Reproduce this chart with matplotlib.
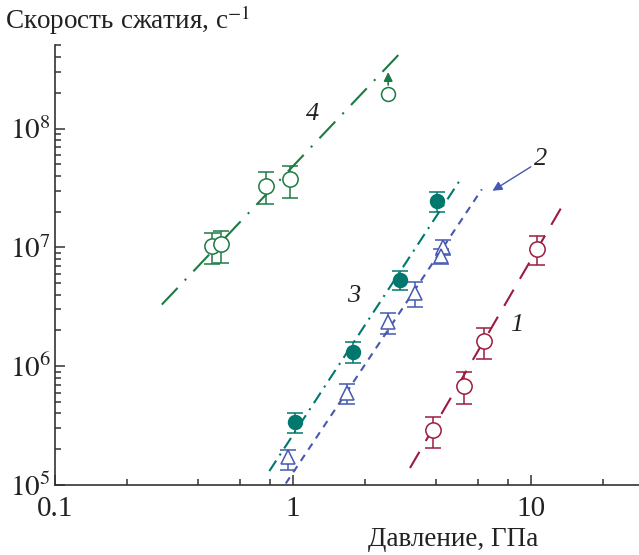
import matplotlib
matplotlib.use("Agg")
import matplotlib.pyplot as plt
import numpy as np
from matplotlib.ticker import LogLocator, NullFormatter, FixedLocator, FixedFormatter

plt.rcParams['font.family'] = ['Liberation Serif', 'DejaVu Serif']
plt.rcParams['mathtext.fontset'] = 'stix'

# Series 1 (dark red, open circles, dashed)
p1 = [3.87, 5.25, 6.35, 10.6]
r1 = [2.91e5, 6.84e5, 1.64e6, 9.6e6]
r1_lo = [2.05e5, 4.83e5, 1.15e6, 7.05e6]
r1_hi = [3.77e5, 8.87e5, 2.10e6, 1.24e7]
fit1_p = [3.1, 13.5]
fit1_r = [1.39e5, 2.22e7]

# Series 2 (blue, open triangles, short dashes)
p2 = [0.953, 1.68, 2.51, 3.26, 4.25, 4.2]
r2 = [1.72e5, 5.94e5, 2.34e6, 4.15e6, 1.0e7, 8.4e6]
r2_lo = [1.34e5, 4.83e5, 1.88e6, 3.13e6, 8.6e6, 7.2e6]
r2_hi = [1.97e5, 7.08e5, 2.81e6, 5.07e6, 1.15e7, 9.6e6]
fit2_p = [0.932, 6.21]
fit2_r = [1.03e5, 3.08e7]

# Series 3 (teal, filled circles, dash-dot)
p3 = [1.02, 1.79, 2.82, 4.04]
r3 = [3.42e5, 1.32e6, 5.3e6, 2.46e7]
r3_lo = [2.73e5, 1.06e6, 4.4e6, 2.0e7]
r3_hi = [4.03e5, 1.59e6, 6.3e6, 2.95e7]
fit3_p = [0.795, 5.11]
fit3_r = [1.31e5, 3.87e7]

# Series 4 (green, open circles, long dash-dot)
p4 = [0.455, 0.498, 0.768, 0.971]
r4 = [1.03e7, 1.06e7, 3.29e7, 3.75e7]
r4_lo = [7.2e6, 7.4e6, 2.3e7, 2.62e7]
r4_hi = [1.33e7, 1.37e7, 4.27e7, 4.85e7]
p4_lim = [2.51]
r4_lim = [1.95e8]
r4_lim_arrow = [3.15e8]
fit4_p = [0.281, 2.86]
fit4_r = [3.3e6, 4.45e8]

c1 = '#9b1c3e'
c2 = '#4558b2'
c3 = '#00786d'
c4 = '#1c7a42'

fig = plt.figure(figsize=(6.39, 5.55), dpi=100)
ax = fig.add_axes([55/639, 70/555, 584/639, 439.5/555])
ax.set_xscale('log')
ax.set_yscale('log')
ax.set_xlim(0.1, 28.4)
ax.set_ylim(1e5, 5e8)

lw = 1.5
# fit lines
ax.plot(fit1_p, fit1_r, color=c1, lw=lw, dashes=(9, 6))
ax.plot(fit2_p, fit2_r, color=c2, lw=lw, dashes=(3.5, 3))
ax.plot(fit3_p, fit3_r, color=c3, lw=lw, dashes=(6, 3, 1, 3))
ax.plot(fit4_p, fit4_r, color=c4, lw=lw, dashes=(11, 5, 1, 5))

def eb(p, r, lo, hi, color, marker, ms, filled):
    r = np.array(r); lo = np.array(lo); hi = np.array(hi)
    yerr = [r - lo, hi - r]
    ax.errorbar(p, r, yerr=yerr, fmt='none', ecolor=color, elinewidth=1.1,
                capsize=6, capthick=1.1, zorder=3)
    ax.plot(p, r, linestyle='none', marker=marker, ms=ms,
            mfc=color if filled else 'white', mec=color, mew=1.1, zorder=4)

eb(p1, r1, r1_lo, r1_hi, c1, 'o', 11, False)
eb(p2, r2, r2_lo, r2_hi, c2, '^', 10, False)
eb(p3, r3, r3_lo, r3_hi, c3, 'o', 10, True)
eb(p4, r4, r4_lo, r4_hi, c4, 'o', 11, False)

ax.plot(p4_lim, r4_lim, linestyle='none', marker='o', ms=10, mfc='white', mec=c4, mew=1.1, zorder=4)
for x, y0, y1 in zip(p4_lim, r4_lim, r4_lim_arrow):
    ax.annotate('', xy=(x, y1), xytext=(x, y0 * 1.13),
                arrowprops=dict(arrowstyle='-|>', color=c4, lw=1.2, mutation_scale=13))

# curve labels
tkw = dict(fontsize=19, style='italic', color='#222222', ha='center', va='center')
ax.text(1.21, 1.33e8, '4', **tkw)
ax.text(1.79, 3.86e6, '3', **tkw)
ax.text(8.73, 2.24e6, '1', **tkw)
ax.text(11.0, 5.53e7, '2', **tkw)
ax.annotate('', xy=(6.73, 2.91e7), xytext=(10.2, 4.9e7),
            arrowprops=dict(arrowstyle='-|>', color=c2, lw=1.0, mutation_scale=14))

# spines and ticks
for s in ['top', 'right']:
    ax.spines[s].set_visible(False)
for s in ['left', 'bottom']:
    ax.spines[s].set_linewidth(1.2)
    ax.spines[s].set_color('#333333')

ax.xaxis.set_major_locator(FixedLocator([0.1, 1, 10]))
ax.xaxis.set_major_formatter(FixedFormatter(['0.1', '1', '10']))
ax.xaxis.set_minor_locator(LogLocator(base=10, subs=(2, 4, 6, 8)))
ax.xaxis.set_minor_formatter(NullFormatter())
ax.yaxis.set_major_locator(FixedLocator([1e5, 1e6, 1e7, 1e8]))
ax.yaxis.set_major_formatter(FixedFormatter([r'$10^5$', r'$10^6$', r'$10^7$', r'$10^8$']))
ax.yaxis.set_minor_locator(LogLocator(base=10, subs=np.arange(2, 10)))
ax.yaxis.set_minor_formatter(NullFormatter())
ax.tick_params(which='both', direction='in', color='#333333', width=1.1)
ax.tick_params(which='major', length=7, labelsize=21, labelcolor='#222222')
ax.tick_params(which='minor', length=4.5)
ax.tick_params(axis='x', which='major', pad=8)
ax.tick_params(axis='y', which='major', pad=3)

fig.text(5/639, 1 - 20/555, r'Скорость сжатия, с$^{-1}$', fontsize=19.5, color='#222222',
         ha='left', va='center')
fig.text(453/639, 1 - 540/555, 'Давление, ГПа', fontsize=19.5, color='#222222',
         ha='center', va='center')

fig.savefig('out.png', dpi=100)
